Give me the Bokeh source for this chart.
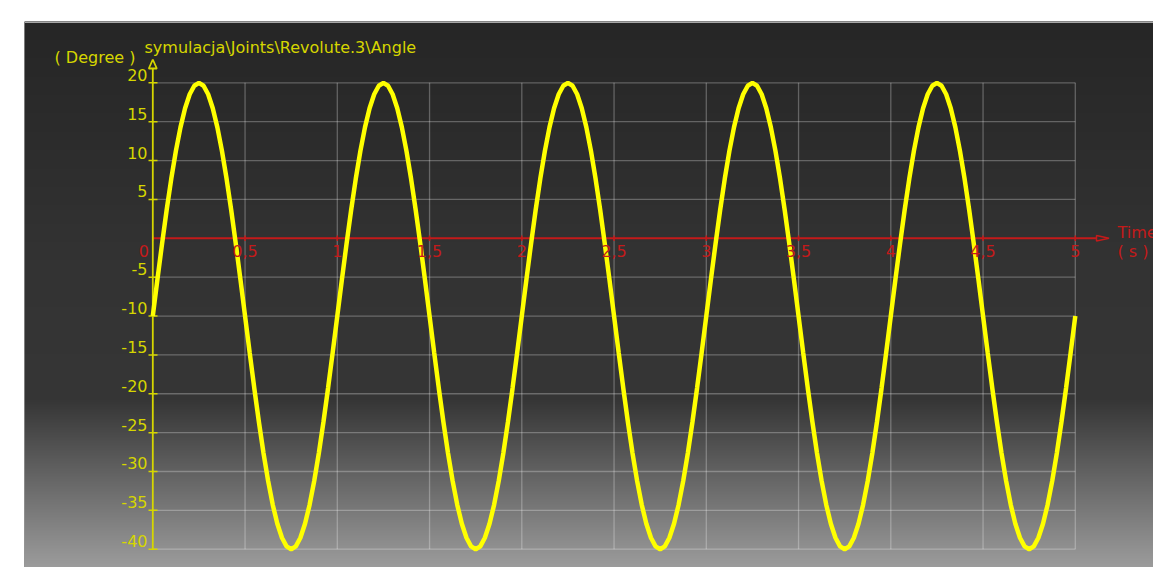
import numpy as np
from bokeh.plotting import figure
from bokeh.models import Range1d, Span
from bokeh.core.properties import value
from bokeh.embed import file_html
from bokeh.resources import INLINE

# ---- data ----
time_step = 0.025  # seconds between samples
angle = [
    -10, -5.31, -0.73, 3.62, 7.63, 11.21, 14.27, 16.73, 18.53, 19.63,
    20, 19.63, 18.53, 16.73, 14.27, 11.21, 7.63, 3.62, -0.73, -5.31,
    -10, -14.69, -19.27, -23.62, -27.63, -31.21, -34.27, -36.73, -38.53, -39.63,
    -40, -39.63, -38.53, -36.73, -34.27, -31.21, -27.63, -23.62, -19.27, -14.69,
    -10, -5.31, -0.73, 3.62, 7.63, 11.21, 14.27, 16.73, 18.53, 19.63,
    20, 19.63, 18.53, 16.73, 14.27, 11.21, 7.63, 3.62, -0.73, -5.31,
    -10, -14.69, -19.27, -23.62, -27.63, -31.21, -34.27, -36.73, -38.53, -39.63,
    -40, -39.63, -38.53, -36.73, -34.27, -31.21, -27.63, -23.62, -19.27, -14.69,
    -10, -5.31, -0.73, 3.62, 7.63, 11.21, 14.27, 16.73, 18.53, 19.63,
    20, 19.63, 18.53, 16.73, 14.27, 11.21, 7.63, 3.62, -0.73, -5.31,
    -10, -14.69, -19.27, -23.62, -27.63, -31.21, -34.27, -36.73, -38.53, -39.63,
    -40, -39.63, -38.53, -36.73, -34.27, -31.21, -27.63, -23.62, -19.27, -14.69,
    -10, -5.31, -0.73, 3.62, 7.63, 11.21, 14.27, 16.73, 18.53, 19.63,
    20, 19.63, 18.53, 16.73, 14.27, 11.21, 7.63, 3.62, -0.73, -5.31,
    -10, -14.69, -19.27, -23.62, -27.63, -31.21, -34.27, -36.73, -38.53, -39.63,
    -40, -39.63, -38.53, -36.73, -34.27, -31.21, -27.63, -23.62, -19.27, -14.69,
    -10, -5.31, -0.73, 3.62, 7.63, 11.21, 14.27, 16.73, 18.53, 19.63,
    20, 19.63, 18.53, 16.73, 14.27, 11.21, 7.63, 3.62, -0.73, -5.31,
    -10, -14.69, -19.27, -23.62, -27.63, -31.21, -34.27, -36.73, -38.53, -39.63,
    -40, -39.63, -38.53, -36.73, -34.27, -31.21, -27.63, -23.62, -19.27, -14.69,
    -10,
]
times = [i * time_step for i in range(len(angle))]

x_ticks = [0, 0.5, 1, 1.5, 2, 2.5, 3, 3.5, 4, 4.5, 5]
x_labels = ["0", "0,5", "1", "1,5", "2", "2,5", "3", "3,5", "4", "4,5", "5"]
y_ticks = [20, 15, 10, 5, -5, -10, -15, -20, -25, -30, -35, -40]
y_labels = ["20", "15", "10", "5", "-5", "-10", "-15", "-20", "-25", "-30", "-35", "-40"]

y_title = "( Degree )"
series_name = "symulacja\\Joints\\Revolute.3\\Angle"
x_title = "Time"
x_unit = "( s )"

# ---- layout (pixel <-> data helpers) ----
X0_PX, X_SCALE = 152.3, 184.5      # px of t=0, px per second
Y0_PX, Y_SCALE = 237.8, 7.773      # px of value 0, px per degree
FRAME_L, FRAME_T, FRAME_R, FRAME_B = 24, 21, 1153, 567

def tx(px):
    return (px - X0_PX) / X_SCALE

def vy(py):
    return (Y0_PX - py) / Y_SCALE

YELLOW = "#ffff00"
TXT_Y = "#d6d600"
RED = "#c41a1a"
FONT = value("DejaVu Sans")

p = figure(width=FRAME_R, height=FRAME_B,
           x_range=Range1d(tx(FRAME_L), tx(FRAME_R)),
           y_range=Range1d(vy(FRAME_B), vy(FRAME_T)),
           x_axis_type=None, y_axis_type=None,
           toolbar_location=None, output_backend="svg",
           min_border_left=FRAME_L, min_border_top=FRAME_T,
           min_border_right=0, min_border_bottom=0,
           border_fill_color="white", outline_line_color=None,
           background_fill_color="#303030")

# background gradient
H = FRAME_B - FRAME_T
rows_px = FRAME_B - np.arange(H)  # row 0 at bottom
gray = np.interp(rows_px, [21, 260, 400, 567], [38, 51, 54, 156]).astype(np.uint32)
img = np.empty((H, 1), dtype=np.uint32)
view = img.view(dtype=np.uint8).reshape((H, 1, 4))
view[:, 0, 0] = gray
view[:, 0, 1] = gray
view[:, 0, 2] = gray
view[:, 0, 3] = 255
p.image_rgba(image=[img], x=tx(FRAME_L), y=vy(FRAME_B),
             dw=tx(FRAME_R) - tx(FRAME_L), dh=vy(FRAME_T) - vy(FRAME_B))

p.add_layout(Span(location=vy(FRAME_T + 0.8), dimension="width",
                  line_color="#a8a8a8", line_width=1.5))

# grid
p.segment(x0=x_ticks[1:], y0=[y_ticks[-1]] * (len(x_ticks) - 1),
          x1=x_ticks[1:], y1=[y_ticks[0]] * (len(x_ticks) - 1),
          line_color="white", line_alpha=0.27, line_width=1.3)
p.segment(x0=[x_ticks[0]] * len(y_ticks), y0=y_ticks,
          x1=[x_ticks[-1]] * len(y_ticks), y1=y_ticks,
          line_color="white", line_alpha=0.27, line_width=1.3)

# x axis (red) with arrow
x_arrow_base = tx(1096)
x_arrow_tip = tx(1108.5)
p.segment(x0=[0], y0=[0], x1=[x_arrow_base], y1=[0], line_color=RED, line_width=2)
half = 2.8 / Y_SCALE
p.patch(x=[x_arrow_base, x_arrow_tip, x_arrow_base], y=[half, 0, -half],
        fill_color=None, line_color=RED, line_width=1.5)
p.segment(x0=x_ticks, y0=[2.8 / Y_SCALE] * len(x_ticks),
          x1=x_ticks, y1=[-2.8 / Y_SCALE] * len(x_ticks),
          line_color=RED, line_width=1.5)

# y axis (yellow) with arrow
y_arrow_base = vy(68)
y_arrow_tip = vy(59)
p.segment(x0=[0], y0=[y_ticks[-1]], x1=[0], y1=[y_arrow_base],
          line_color=TXT_Y, line_width=1.8)
hw = 4.0 / X_SCALE
p.patch(x=[-hw, 0, hw], y=[y_arrow_base, y_arrow_tip, y_arrow_base],
        fill_color=None, line_color=TXT_Y, line_width=1.8)
p.segment(x0=[tx(148)] * len(y_ticks), y0=y_ticks,
          x1=[tx(157)] * len(y_ticks), y1=y_ticks,
          line_color=TXT_Y, line_width=1.5)

# curve
p.line(times, angle, line_color=YELLOW, line_width=4.5)

# tick labels
p.text(x=[tx(147)] * len(y_ticks), y=y_ticks, text=y_labels,
       text_color=TXT_Y, text_font=FONT, text_font_size="16px",
       text_align="right", text_baseline="middle", y_offset=-8)
x_off = [-9] + [0] * (len(x_ticks) - 1)
p.text(x=x_ticks, y=[0] * len(x_ticks), text=x_labels,
       text_color=RED, text_font=FONT, text_font_size="16px",
       text_align="center", text_baseline="middle", y_offset=13, x_offset=x_off)

# titles
p.text(x=[tx(54)], y=[vy(57)], text=[y_title], text_color=TXT_Y, text_font=FONT,
       text_font_size="16px", text_align="left", text_baseline="middle")
p.text(x=[tx(144)], y=[vy(47)], text=[series_name], text_color=TXT_Y, text_font=FONT,
       text_font_size="16px", text_align="left", text_baseline="middle")
p.text(x=[tx(1117)], y=[0], text=[x_title], text_color=RED, text_font=FONT,
       text_font_size="16px", text_align="left", text_baseline="middle", y_offset=-6)
p.text(x=[tx(1117)], y=[0], text=[x_unit], text_color=RED, text_font=FONT,
       text_font_size="16px", text_align="left", text_baseline="middle", y_offset=13)

open("out.html", "w").write(file_html(p, INLINE))
